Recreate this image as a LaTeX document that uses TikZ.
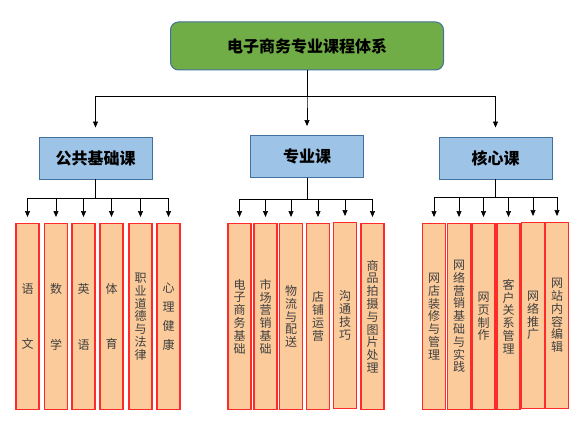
\documentclass[tikz,border=0pt]{standalone}
\usepackage{fontspec}
\setmainfont{Noto Sans CJK SC}
\usepackage{tikz}
\usetikzlibrary{arrows.meta}
\definecolor{rootgreen}{HTML}{70AD47}
\definecolor{edgeblue}{HTML}{41719C}
\definecolor{catblue}{HTML}{9DC3E6}
\definecolor{leaforange}{HTML}{FCCB9C}
\definecolor{leafred}{HTML}{FF2A2A}
\definecolor{leaftext}{HTML}{404040}

\begin{document}
\begin{tikzpicture}[x=1pt, y=-1pt,
	root/.style={draw=edgeblue, fill=rootgreen, line width=1pt, rounded corners=8pt,
		minimum width=273pt, minimum height=48pt, font=\fontsize{16}{18}\selectfont\bfseries},
	cat/.style={draw=edgeblue, fill=catblue, line width=0.9pt,
		minimum width=113pt, minimum height=42pt, font=\fontsize{16}{18}\selectfont\bfseries},
	leaf/.style={draw=leafred, fill=leaforange, line width=1.1pt, anchor=north, inner sep=0pt,
		minimum width=23pt, minimum height=186pt, text width=12pt, align=center,
		text=leaftext, font=\fontsize{12}{12.8}\selectfont},
	arr/.style={-{Triangle[length=6pt,width=5pt]}, line width=0.7pt}]
	\useasboundingbox (0,0) rectangle (583,422);
	% top
	\node (root) [root] at (307,46) {电子商务专业课程体系};
	\node (gong) [cat] at (95.5,158) {公共基础课};
	\node (zhuan) [cat] at (307,156.5) {专业课};
	\node (hexin) [cat] at (495.5,158) {核心课};
	\draw[arr, shorten >=9pt] (root.south) -- ++(0,26) -| (gong.north);
	\draw[arr, shorten >=9pt] (root.south) -- ++(0,26) -| (zhuan.north);
	\draw[arr, shorten >=9pt] (root.south) -- ++(0,26) -| (hexin.north);
	% 公共基础课
	\node (g1) [leaf] at (27.5,223) {语\\[43pt]文};
	\node (g2) [leaf] at (56,223) {数\\[43pt]学};
	\node (g3) [leaf] at (83.5,223) {英\\[43pt]语};
	\node (g4) [leaf] at (111.5,223) {体\\[43pt]育};
	\node (g5) [leaf] at (140.5,223) {职\\业\\道\\德\\与\\法\\律};
	\node (g6) [leaf] at (168.5,223) {心\\[6pt]理\\[6pt]健\\[6pt]康};
	\foreach \n in {g1,g2,g3,g4,g5,g6}
		\draw[arr, shorten >=6pt] (gong.south) -- ++(0,19) -| (\n.north);
	% 专业课
	\node (z1) [leaf] at (239.5,223) {电\\子\\商\\务\\基\\础};
	\node (z2) [leaf] at (265.5,223) {市\\场\\营\\销\\基\\础};
	\node (z3) [leaf] at (291,223) {物\\流\\与\\配\\送};
	\node (z4) [leaf] at (318,223) {店\\铺\\运\\营};
	\node (z5) [leaf] at (345,222) {沟\\通\\技\\巧};
	\node (z6) [leaf] at (372.5,223) {商\\品\\拍\\摄\\与\\图\\片\\处\\理};
	\foreach \n in {z1,z2,z3,z4,z5,z6}
		\draw[arr, shorten >=6pt] (zhuan.south) -- ++(0,21) -| (\n.north);
	% 核心课
	\node (h1) [leaf] at (434,223) {网\\店\\装\\修\\与\\管\\理};
	\node (h2) [leaf] at (459,223) {网\\络\\营\\销\\基\\础\\与\\实\\践};
	\node (h3) [leaf] at (483.5,223) {网\\页\\制\\作};
	\node (h4) [leaf] at (508.5,223) {客\\户\\关\\系\\管\\理};
	\node (h5) [leaf] at (533,222) {网\\络\\推\\广};
	\node (h6) [leaf] at (557,222) {网\\站\\内\\容\\编\\辑};
	\foreach \n in {h1,h2,h3,h4,h5,h6}
		\draw[arr, shorten >=6pt] (hexin.south) -- ++(0,18) -| (\n.north);
\end{tikzpicture}
\end{document}
